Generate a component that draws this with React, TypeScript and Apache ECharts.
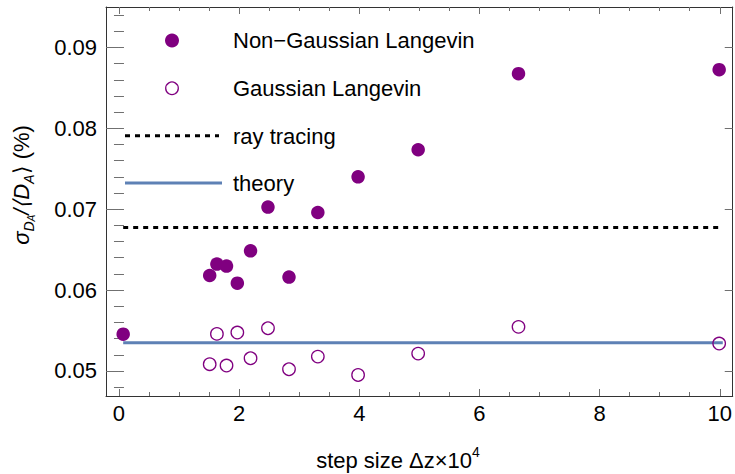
import React, { useEffect, useRef } from "react";
import * as echarts from "echarts";

// ---- data ----
const nonGaussX = [0.07, 1.51, 1.63, 1.79, 1.97, 2.19, 2.48, 2.83, 3.31, 3.98, 4.98, 6.65, 9.99];
const nonGaussY = [0.05454, 0.0618, 0.06321, 0.06296, 0.06085, 0.06485, 0.07026, 0.0616, 0.06959, 0.074, 0.07735, 0.08676, 0.08725];
const gaussX = [1.51, 1.63, 1.79, 1.97, 2.19, 2.48, 2.83, 3.31, 3.98, 4.98, 6.65, 9.99];
const gaussY = [0.05083, 0.05458, 0.05066, 0.05474, 0.05157, 0.05528, 0.05021, 0.05177, 0.0495, 0.05214, 0.05545, 0.05338];
const rayTracingValue = 0.06774;
const theoryValue = 0.05347;
const lineSpan = [0.07, 10.05];

const xMajorTicks = [0, 2, 4, 6, 8, 10];
const xMinorTicks = [0, 0.5, 1, 1.5, 2, 2.5, 3, 3.5, 4, 4.5, 5, 5.5, 6, 6.5, 7, 7.5, 8, 8.5, 9, 9.5, 10];
const yMajorTicks = [0.05, 0.06, 0.07, 0.08, 0.09];
const yMinorTicks = [0.048, 0.05, 0.052, 0.054, 0.056, 0.058, 0.06, 0.062, 0.064, 0.066, 0.068, 0.07, 0.072, 0.074, 0.076, 0.078, 0.08, 0.082, 0.084, 0.086, 0.088, 0.09, 0.092, 0.094];

const legendLabels = ["Non\u2212Gaussian Langevin", "Gaussian Langevin", "ray tracing", "theory"];

const FONT = "'Liberation Sans', Arial, sans-serif";
const PURPLE = "#800080";
const BLUE = "#5E81B5";
const FRAME = "#333333";
const TICK = "#707070";

export default function App() {
  const ref = useRef<HTMLDivElement>(null);
  useEffect(() => {
    if (!ref.current) return;
    const chart = echarts.init(ref.current, null, { renderer: "svg" });

    const X_MIN = -0.216;
    const X_MAX = 10.216;
    const Y_MIN = 0.0469;
    const Y_MAX = 0.095;

    const xBase = (extra: any) => ({
      type: "value",
      min: X_MIN,
      max: X_MAX,
      splitLine: { show: false },
      ...extra,
    });
    const yBase = (extra: any) => ({
      type: "value",
      min: Y_MIN,
      max: Y_MAX,
      splitLine: { show: false },
      ...extra,
    });

    const option: any = {
      animation: false,
      backgroundColor: "#ffffff",
      grid: { left: 106, right: 1, top: 7, bottom: 78, containLabel: false },
      xAxis: [
        xBase({
          position: "bottom",
          axisLine: { show: true, onZero: false, lineStyle: { color: FRAME, width: 1 } },
          axisTick: { show: true, inside: true, length: 7, customValues: xMajorTicks, lineStyle: { color: TICK, width: 1 } },
          axisLabel: {
            show: true,
            customValues: xMajorTicks,
            margin: 6,
            fontSize: 22,
            fontFamily: FONT,
            color: "#000",
            formatter: (v: number) => String(Math.round(v)),
          },
        }),
        xBase({
          position: "bottom",
          axisLine: { show: false },
          axisTick: { show: true, inside: true, length: 4, customValues: xMinorTicks, lineStyle: { color: TICK, width: 1 } },
          axisLabel: { show: false },
        }),
        xBase({
          position: "top",
          axisLine: { show: true, onZero: false, lineStyle: { color: FRAME, width: 1 } },
          axisTick: { show: true, inside: true, length: 7, customValues: xMajorTicks, lineStyle: { color: TICK, width: 1 } },
          axisLabel: { show: false },
        }),
        xBase({
          position: "top",
          axisLine: { show: false },
          axisTick: { show: true, inside: true, length: 4, customValues: xMinorTicks, lineStyle: { color: TICK, width: 1 } },
          axisLabel: { show: false },
        }),
      ],
      yAxis: [
        yBase({
          position: "left",
          axisLine: { show: true, onZero: false, lineStyle: { color: FRAME, width: 1 } },
          axisTick: { show: true, inside: true, length: 8, customValues: yMajorTicks, lineStyle: { color: TICK, width: 1 } },
          axisLabel: {
            show: true,
            customValues: yMajorTicks,
            margin: 9,
            fontSize: 22,
            fontFamily: FONT,
            color: "#000",
            formatter: (v: number) => v.toFixed(2),
          },
        }),
        yBase({
          position: "left",
          axisLine: { show: false },
          axisTick: { show: true, inside: true, length: 5, customValues: yMinorTicks, lineStyle: { color: TICK, width: 1 } },
          axisLabel: { show: false },
        }),
        yBase({
          position: "right",
          axisLine: { show: true, onZero: false, lineStyle: { color: FRAME, width: 1 } },
          axisTick: { show: true, inside: true, length: 8, customValues: yMajorTicks, lineStyle: { color: TICK, width: 1 } },
          axisLabel: { show: false },
        }),
        yBase({
          position: "right",
          axisLine: { show: false },
          axisTick: { show: true, inside: true, length: 5, customValues: yMinorTicks, lineStyle: { color: TICK, width: 1 } },
          axisLabel: { show: false },
        }),
      ],
      series: [
        {
          name: legendLabels[3],
          type: "line",
          xAxisIndex: 0,
          yAxisIndex: 0,
          symbol: "none",
          data: lineSpan.map((x) => [x, theoryValue]),
          lineStyle: { color: BLUE, width: 3 },
          z: 2,
        },
        {
          name: legendLabels[2],
          type: "line",
          xAxisIndex: 0,
          yAxisIndex: 0,
          symbol: "none",
          data: lineSpan.map((x) => [x, rayTracingValue]),
          lineStyle: { color: "#000", width: 3, type: [5, 5] },
          z: 2,
        },
        {
          name: legendLabels[1],
          type: "scatter",
          xAxisIndex: 0,
          yAxisIndex: 0,
          symbol: "circle",
          symbolSize: 12.5,
          data: gaussX.map((x, i) => [x, gaussY[i]]),
          itemStyle: { color: "rgba(0,0,0,0)", borderColor: PURPLE, borderWidth: 1.3, opacity: 1 },
          z: 3,
        },
        {
          name: legendLabels[0],
          type: "scatter",
          xAxisIndex: 0,
          yAxisIndex: 0,
          symbol: "circle",
          symbolSize: 13.5,
          data: nonGaussX.map((x, i) => [x, nonGaussY[i]]),
          itemStyle: { color: PURPLE, opacity: 1 },
          z: 4,
        },
      ],
      graphic: [
        // legend
        { type: "circle", shape: { cx: 172, cy: 40.5, r: 7 }, style: { fill: PURPLE }, z: 10 },
        { type: "circle", shape: { cx: 172, cy: 88.3, r: 6.3 }, style: { fill: "none", stroke: PURPLE, lineWidth: 1.3 }, z: 10 },
        { type: "line", shape: { x1: 125, y1: 135.7, x2: 219, y2: 135.7 }, style: { stroke: "#000", lineWidth: 3, lineDash: [5, 5] }, z: 10 },
        { type: "line", shape: { x1: 125, y1: 183, x2: 222, y2: 183 }, style: { stroke: BLUE, lineWidth: 3 }, z: 10 },
        ...legendLabels.map((t, i) => ({
          type: "text",
          x: 233,
          y: [40, 88, 136, 183][i],
          z: 10,
          style: { text: t, fontSize: 22, fontFamily: FONT, fill: "#000", align: "left", verticalAlign: "middle" },
        })),
        // x axis title
        {
          type: "text",
          x: 398,
          y: 458,
          z: 10,
          style: {
            text: "{a|step size \u0394z\u00d710}{s|4}",
            align: "center",
            verticalAlign: "middle",
            fontFamily: FONT,
            rich: {
              a: { fontSize: 22, fontFamily: FONT, fill: "#000", lineHeight: 26, verticalAlign: "bottom" },
              s: { fontSize: 14, fontFamily: FONT, fill: "#000", lineHeight: 14, verticalAlign: "top" },
            },
          },
        },
        // y axis title
        {
          type: "text",
          x: 21,
          y: 185,
          rotation: Math.PI / 2,
          z: 10,
          style: {
            text: "{i|\u03c3}{s|D}{ss|A}{i|/\u27e8D}{s|A}{n|\u27e9 (%)}",
            align: "center",
            verticalAlign: "middle",
            fontFamily: FONT,
            rich: {
              i: { fontSize: 22, fontFamily: FONT, fontStyle: "italic", fill: "#000", lineHeight: 30 },
              n: { fontSize: 22, fontFamily: FONT, fill: "#000", lineHeight: 30 },
              s: { fontSize: 14, fontFamily: FONT, fontStyle: "italic", fill: "#000", lineHeight: 14, verticalAlign: "bottom" },
              ss: { fontSize: 10, fontFamily: FONT, fontStyle: "italic", fill: "#000", lineHeight: 2, verticalAlign: "bottom" },
            },
          },
        },
      ],
    };

    chart.setOption(option);
    return () => chart.dispose();
  }, []);

  return (
    <div
      ref={ref}
      style={{ position: "fixed", left: 0, top: 0, width: 735, height: 474, background: "#fff" }}
    />
  );
}
